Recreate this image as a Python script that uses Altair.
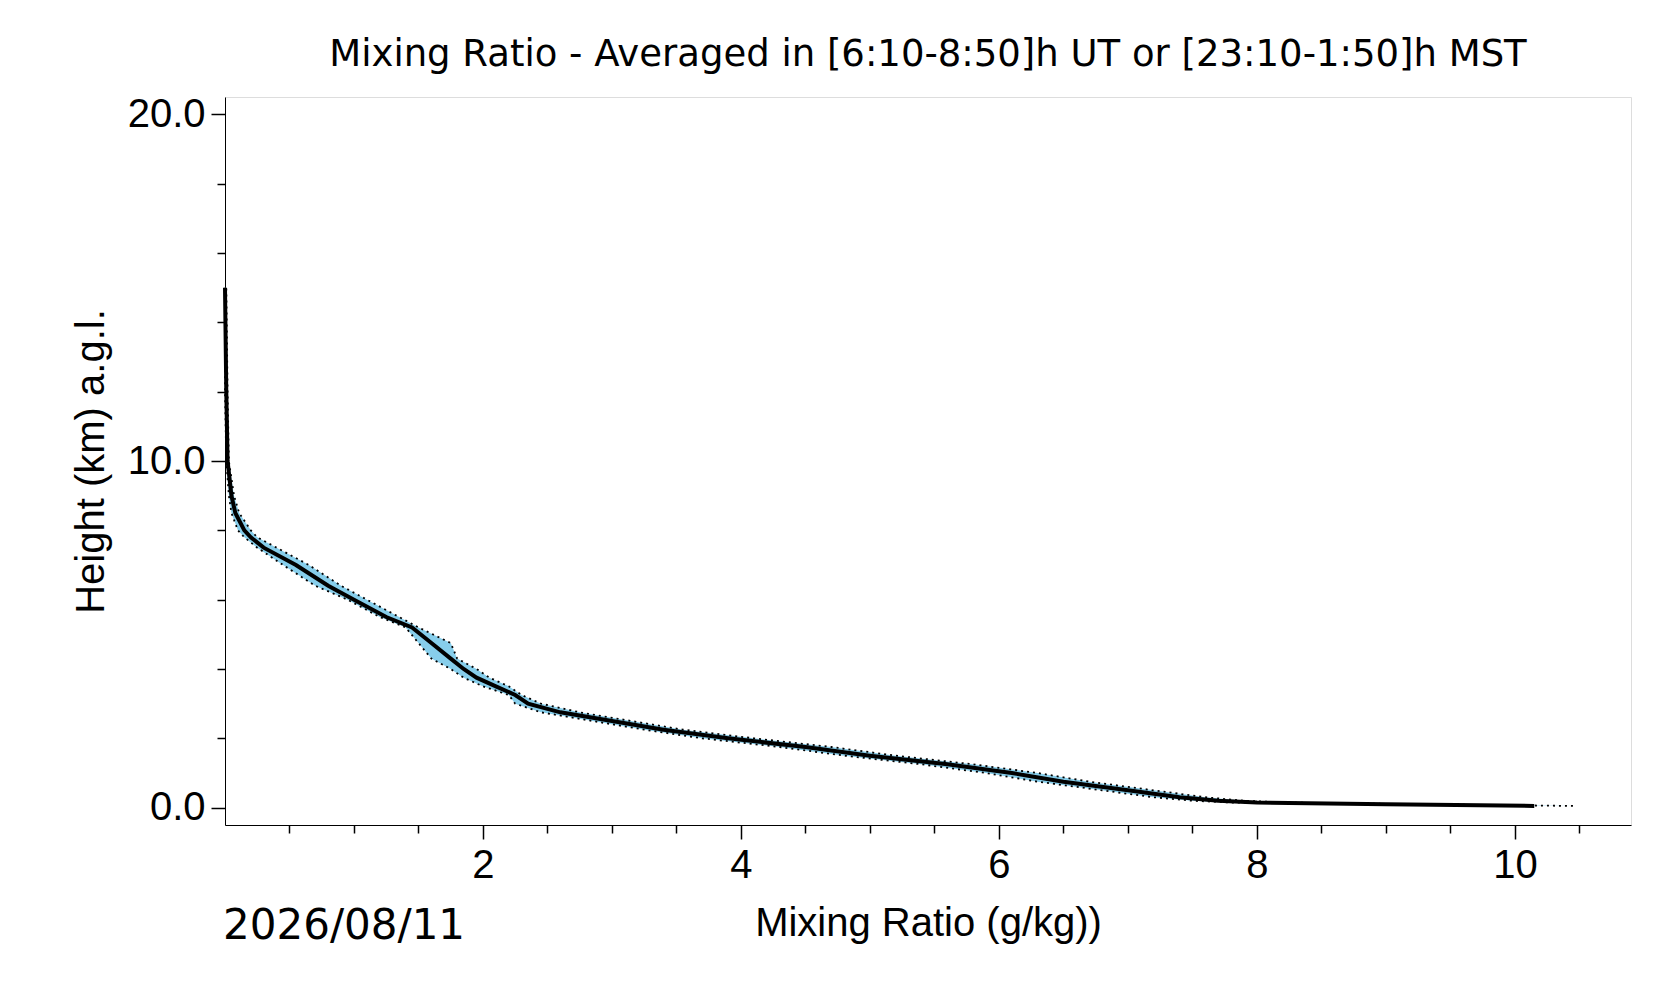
import altair as alt
import pandas as pd

# height (km) and mixing ratio (g/kg): mean, min, max
height = [0.05, 0.1, 0.15, 0.2, 0.3, 0.5, 0.75, 1.0, 1.25, 1.5, 1.75, 2.0, 2.25, 2.5, 2.75,
          3.0, 3.25, 3.5, 3.75, 4.0, 4.3, 4.75, 5.2, 5.5, 6.0, 6.4, 7.0, 7.5, 7.8, 8.0,
          8.5, 9.0, 10.0, 12.0, 15.0]
mean = [10.15, 9.0, 8.0, 7.7, 7.4, 7.0, 6.5, 6.1, 5.6, 5.0, 4.5, 3.9, 3.4, 3.0, 2.6,
        2.35, 2.25, 2.1, 1.95, 1.85, 1.75, 1.6, 1.45, 1.25, 1.0, 0.8, 0.55, 0.3, 0.2, 0.15,
        0.08, 0.05, 0.02, 0.01, 0.0]
low = [10.1, 8.8, 7.8, 7.5, 7.2, 6.8, 6.3, 5.9, 5.4, 4.8, 4.3, 3.7, 3.25, 2.85, 2.45,
       2.25, 2.2, 2.0, 1.85, 1.75, 1.6, 1.5, 1.4, 1.2, 0.95, 0.7, 0.45, 0.25, 0.15, 0.1,
       0.05, 0.03, 0.01, 0.0, 0.0]
high = [10.45, 9.2, 8.2, 7.9, 7.6, 7.2, 6.7, 6.3, 5.8, 5.2, 4.7, 4.1, 3.55, 3.15, 2.75,
        2.45, 2.3, 2.2, 2.05, 1.95, 1.8, 1.75, 1.5, 1.35, 1.1, 0.9, 0.65, 0.4, 0.25, 0.2,
        0.11, 0.07, 0.03, 0.02, 0.01]

df = pd.DataFrame({'height': height, 'mean': mean, 'low': low, 'high': high})

font = 'DejaVu Sans'
x_ticks = [i * 0.5 for i in range(1, 22)]
y_ticks = [i * 0.5 for i in range(0, 41)]

x_scale = alt.Scale(domain=[0, 10.9], nice=False, zero=False)
y_scale = alt.Scale(domain=[-0.5, 20.5], nice=False, zero=False)

x_major = 'abs(datum.value / 2 - round(datum.value / 2)) < 0.001'
y_major = 'abs(datum.value / 2.5 - round(datum.value / 2.5)) < 0.001'

x_axis = alt.Axis(
    title='Mixing Ratio (g/kg))', values=x_ticks, grid=False, labelOverlap=False,
    labelExpr=f"{x_major} ? format(datum.value, 'd') : ''",
    tickSize={'condition': {'test': x_major, 'value': 14}, 'value': 8},
    tickWidth=1.5, domainColor='black', tickColor='black', labelFontSize=40,
    titleFontSize=40, titleFontWeight='normal', labelPadding=6, titlePadding=18,
    labelColor='black', titleColor='black'
)
y_axis = alt.Axis(
    title='Height (km) a.g.l.', values=y_ticks, grid=False, labelOverlap=False,
    labelExpr=f"{y_major} ? format(datum.value, '.1f') : ''",
    tickSize={'condition': {'test': y_major, 'value': 14}, 'value': 8},
    tickWidth=1.5, domainColor='black', tickColor='black', labelFontSize=40,
    titleFontSize=40, titleFontWeight='normal', labelPadding=6, titlePadding=16,
    labelColor='black', titleColor='black'
)

base = alt.Chart(df)

band = base.mark_area(color='#87CEEB', opacity=1, orient='horizontal').encode(
    y=alt.Y('height:Q', scale=y_scale, axis=y_axis),
    x=alt.X('low:Q', scale=x_scale, axis=x_axis),
    x2='high:Q'
)

low_line = base.mark_line(color='black', strokeWidth=1.8, strokeDash=[2, 4]).encode(
    y='height:Q', x='low:Q', order='height:Q'
)
high_line = base.mark_line(color='black', strokeWidth=1.8, strokeDash=[2, 4]).encode(
    y='height:Q', x='high:Q', order='height:Q'
)
mean_line = base.mark_line(color='black', strokeWidth=4).encode(
    y='height:Q', x='mean:Q', order='height:Q'
)

date_text = alt.Chart(pd.DataFrame({'t': ['2026/08/11']})).mark_text(
    align='left', baseline='alphabetic', fontSize=42, font=font, color='black'
).encode(text='t:N', x=alt.value(-2), y=alt.value(842))

chart = alt.layer(band, low_line, high_line, mean_line, date_text).properties(
    width=1406, height=728,
    autosize=alt.AutoSizeParams(type='none'),
    padding={'left': 217, 'top': 89, 'right': 37, 'bottom': 170},
    title=alt.Title('Mixing Ratio - Averaged in [6:10-8:50]h UT or [23:10-1:50]h MST',
                    fontSize=37, fontWeight='normal', font=font, color='black', offset=20)
).configure_view(
    stroke='black', strokeWidth=2
).configure_axis(
    labelFont=font, titleFont=font, domainWidth=2
).configure(background='white')

chart.save('out.html', embed_options={'renderer': 'svg', 'actions': False})
